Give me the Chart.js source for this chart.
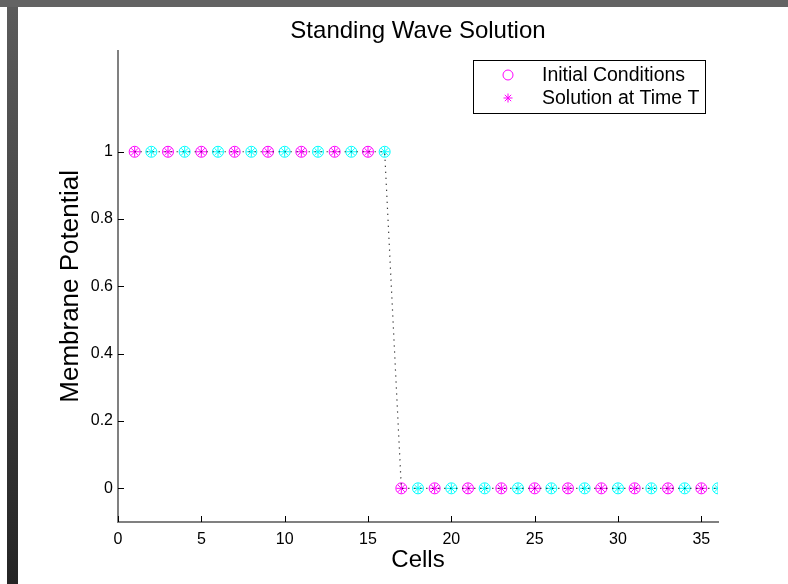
<!DOCTYPE html>
<html>
<head>
<meta charset="utf-8">
<title>Standing Wave Solution</title>
<script src="https://cdn.jsdelivr.net/npm/chart.js@4.4.0/dist/chart.umd.min.js"></script>
<style>
  html, body { margin: 0; padding: 0; background: #fff; }
  #wrap { position: relative; width: 788px; height: 584px; }
</style>
</head>
<body>
<div id="wrap"><canvas id="waveChart" width="788" height="584"></canvas></div>
<script>
// Standing wave - membrane potential per cell

const cells = [1, 2, 3, 4, 5, 6, 7, 8, 9, 10, 11, 12, 13, 14, 15, 16, 17, 18,
               19, 20, 21, 22, 23, 24, 25, 26, 27, 28, 29, 30, 31, 32, 33, 34, 35, 36];
const initialConditions = [1, 1, 1, 1, 1, 1, 1, 1, 1, 1, 1, 1, 1, 1, 1, 1,
                           0, 0, 0, 0, 0, 0, 0, 0, 0, 0, 0, 0, 0, 0, 0, 0, 0, 0, 0, 0];
const solutionAtT = [1, 1, 1, 1, 1, 1, 1, 1, 1, 1, 1, 1, 1, 1, 1, 1,
                     0, 0, 0, 0, 0, 0, 0, 0, 0, 0, 0, 0, 0, 0, 0, 0, 0, 0, 0, 0];
const xTickValues = [0, 5, 10, 15, 20, 25, 30, 35];
const yTickValues = [0, 0.2, 0.4, 0.6, 0.8, 1];

const FONT = 'Liberation Sans, Arial, Helvetica, sans-serif';
const MAGENTA = '#ff00ff';
const CYAN = '#00ffff';
const AXIS_GREY = '#808080';

// odd cells magenta, even cells cyan
const cellColour = ctx => (ctx.dataIndex % 2 === 0 ? MAGENTA : CYAN);

function toPoints(ys) {
    return cells.map((c, i) => ({ x: c, y: ys[i] }));
}

// grey window edges behind everything
const frameBands = {
    id: 'frameBands',
    beforeDraw(chart) {
        const ctx = chart.ctx;
        ctx.save();
        ctx.fillStyle = '#fff';
        ctx.fillRect(0, 0, chart.width, chart.height);
        ctx.fillStyle = '#636363';
        ctx.fillRect(0, 0, chart.width, 7);
        const grad = ctx.createLinearGradient(0, 0, 0, chart.height);
        grad.addColorStop(0, '#5c5c5c');
        grad.addColorStop(1, '#252525');
        ctx.fillStyle = grad;
        ctx.fillRect(7, 7, 11, chart.height - 7);
        ctx.restore();
    }
};

// matlab style ticks pointing into the plot
const innerTicks = {
    id: 'innerTicks',
    afterDraw(chart) {
        const ctx = chart.ctx;
        const xs = chart.scales.x, ys = chart.scales.y;
        const area = chart.chartArea;
        ctx.save();
        ctx.strokeStyle = '#000';
        ctx.lineWidth = 1;
        ctx.beginPath();
        xs.ticks.forEach(t => {
            const px = Math.round(xs.getPixelForValue(t.value)) + 0.5;
            ctx.moveTo(px, area.bottom);
            ctx.lineTo(px, area.bottom - 6);
        });
        ys.ticks.forEach(t => {
            const py = Math.round(ys.getPixelForValue(t.value)) + 0.5;
            ctx.moveTo(area.left, py);
            ctx.lineTo(area.left + 6, py);
        });
        ctx.stroke();
        ctx.restore();
    }
};

// boxed legend in the upper right corner
const boxLegend = {
    id: 'boxLegend',
    afterDraw(chart) {
        const ctx = chart.ctx;
        const entries = chart.data.datasets.filter(d => !d.noLegend);
        ctx.save();
        ctx.strokeStyle = '#000';
        ctx.lineWidth = 1;
        ctx.strokeRect(473.5, 60.5, 232, 53);
        ctx.font = '19.5px ' + FONT;
        ctx.textBaseline = 'middle';
        ctx.textAlign = 'left';
        entries.forEach((d, i) => {
            const y = 75 + i * 23;
            ctx.strokeStyle = MAGENTA;
            ctx.fillStyle = 'rgba(0,0,0,0)';
            Chart.helpers.drawPoint(ctx, {
                pointStyle: d.pointStyle,
                radius: d.pointStyle === 'circle' ? 5 : 4.5,
                borderWidth: 1,
                rotation: 0
            }, 508, y);
            ctx.fillStyle = '#000';
            ctx.fillText(d.label, 542, y + 1);
        });
        ctx.restore();
    }
};

const ctx = document.getElementById('waveChart').getContext('2d');
new Chart(ctx, {
    type: 'scatter',
    data: {
        datasets: [{
            label: 'path',
            noLegend: true,
            data: toPoints(solutionAtT),
            showLine: true,
            borderColor: '#000',
            borderWidth: 1.2,
            borderDash: [1, 5],
            pointRadius: 0,
            fill: false
        }, {
            label: 'Initial Conditions',
            data: toPoints(initialConditions),
            pointStyle: 'circle',
            pointRadius: 5.5,
            pointBorderWidth: 1,
            pointBorderColor: cellColour,
            pointBackgroundColor: 'rgba(0,0,0,0)',
            showLine: false
        }, {
            label: 'Solution at Time T',
            data: toPoints(solutionAtT),
            pointStyle: 'star',
            pointRadius: 5,
            pointBorderWidth: 1,
            pointBorderColor: cellColour,
            pointBackgroundColor: 'rgba(0,0,0,0)',
            showLine: false
        }]
    },
    options: {
        responsive: false,
        animation: false,
        devicePixelRatio: 1,
        layout: { padding: { left: 0, right: 70, top: 0, bottom: 0 } },
        scales: {
            x: {
                type: 'linear',
                min: 0,
                max: 36,
                afterBuildTicks: axis => { axis.ticks = xTickValues.map(v => ({ value: v })); },
                afterFit: axis => { axis.height = 62; },
                grid: { display: true, drawOnChartArea: false, drawTicks: false },
                border: { color: AXIS_GREY, width: 2 },
                ticks: {
                    padding: 8,
                    color: '#000',
                    maxRotation: 0,
                    autoSkip: false,
                    font: { family: FONT, size: 16 }
                },
                title: {
                    display: true,
                    text: 'Cells',
                    color: '#000',
                    font: { family: FONT, size: 24 },
                    padding: { top: 0, bottom: 9 }
                }
            },
            y: {
                type: 'linear',
                min: -0.1,
                max: 1.3,
                afterBuildTicks: axis => { axis.ticks = yTickValues.map(v => ({ value: v })); },
                afterFit: axis => { axis.width = 118; },
                grid: { display: true, drawOnChartArea: false, drawTicks: false },
                border: { color: AXIS_GREY, width: 2 },
                ticks: {
                    padding: 5,
                    color: '#000',
                    autoSkip: false,
                    font: { family: FONT, size: 16 },
                    callback: v => String(v)
                },
                title: {
                    display: true,
                    text: 'Membrane Potential',
                    color: '#000',
                    font: { family: FONT, size: 26 },
                    padding: { top: 55, bottom: 0 }
                }
            }
        },
        plugins: {
            legend: { display: false },
            tooltip: { enabled: false },
            title: {
                display: true,
                fullSize: false,
                text: 'Standing Wave Solution',
                color: '#000',
                font: { family: FONT, size: 24, weight: 'normal' },
                padding: { top: 17, bottom: 5 }
            }
        }
    },
    plugins: [frameBands, innerTicks, boxLegend]
});
</script>
</body>
</html>
